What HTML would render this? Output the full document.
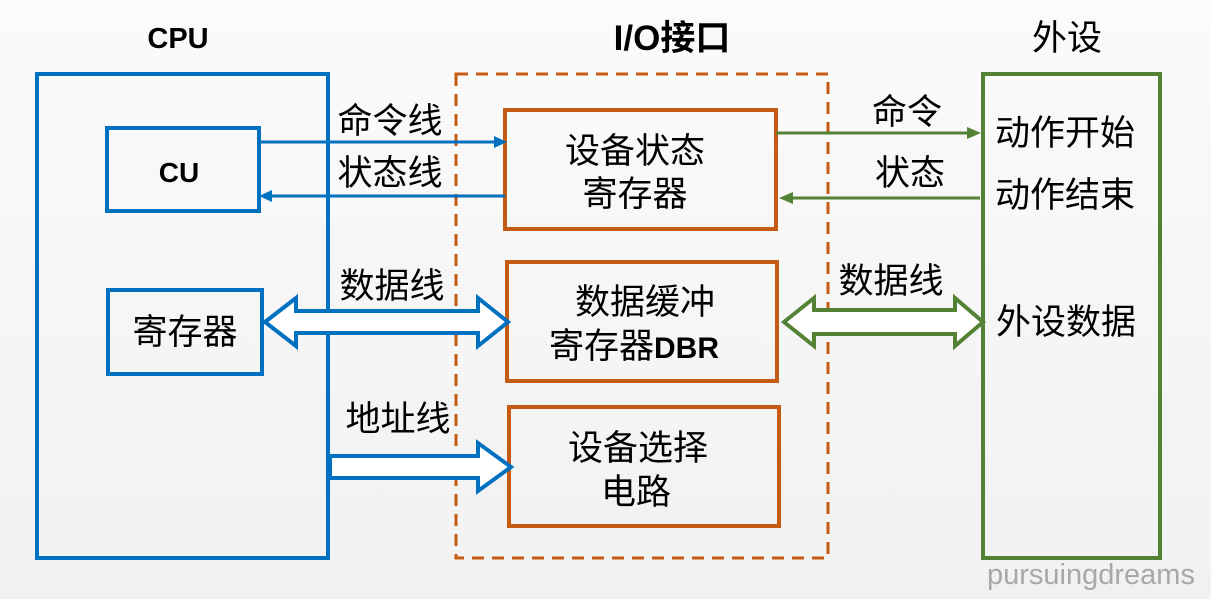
<!DOCTYPE html>
<html><head><meta charset="utf-8"><style>
html,body{margin:0;padding:0;background:#f5f5f5;}
svg{display:block}
text{font-family:"Liberation Sans","Noto Sans CJK SC",sans-serif;fill:#000}
</style></head><body>
<svg width="1211" height="599" viewBox="0 0 1211 599" xmlns="http://www.w3.org/2000/svg">
<defs><linearGradient id="bg" x1="0" y1="0" x2="0" y2="1"><stop offset="0" stop-color="#fbfbfb"/><stop offset="1" stop-color="#f1f1f1"/></linearGradient></defs>
<rect width="1211" height="599" fill="url(#bg)"/>
<text x="178" y="48" font-size="29" font-weight="bold" text-anchor="middle">CPU</text>
<text x="672" y="50" font-size="35" font-weight="bold" text-anchor="middle">I/O接口</text>
<text x="1067" y="50" font-size="35" text-anchor="middle">外设</text>
<g fill="none" stroke="#0070c0" stroke-width="4">
<rect x="37" y="74" width="291" height="484"/>
<rect x="107" y="128" width="152" height="83"/>
<rect x="108" y="290" width="154" height="84"/>
</g>
<rect x="456" y="74" width="372" height="484" fill="none" stroke="#c55a11" stroke-width="3" stroke-dasharray="12,8"/>
<g fill="none" stroke="#c55a11" stroke-width="4">
<rect x="505" y="110" width="271" height="119"/>
<rect x="507" y="262" width="270" height="119"/>
<rect x="509" y="407" width="270" height="119"/>
</g>
<rect x="983" y="74" width="177" height="484" fill="none" stroke="#548235" stroke-width="4"/>
<g stroke="#0070c0" stroke-width="3" fill="#0070c0">
<line x1="259" y1="142" x2="497" y2="142"/>
<polygon points="507,142 494,136 494,148" stroke="none"/>
<line x1="505" y1="196" x2="269" y2="196"/>
<polygon points="259,196 272,190 272,202" stroke="none"/>
</g>
<g fill="#fff" stroke="#0070c0" stroke-width="4" stroke-linejoin="miter">
<polygon points="265,322 296,298 296,311 478,311 478,298 508,322 478,346 478,333 296,333 296,346"/>
<polygon points="330,456 478,456 478,443 511,467 478,491 478,478 330,478"/>
</g>
<g stroke="#548235" stroke-width="3" fill="#548235">
<line x1="776" y1="133" x2="970" y2="133"/>
<polygon points="981,133 967,127 967,139" stroke="none"/>
<line x1="980" y1="198" x2="790" y2="198"/>
<polygon points="779,198 793,192 793,204" stroke="none"/>
</g>
<polygon points="784,322 814,298 814,310 955,310 955,298 983,322 955,346 955,334 814,334 814,346" fill="#fff" stroke="#548235" stroke-width="4"/>
<g font-size="35">
<text x="390" y="133" text-anchor="middle">命令线</text>
<text x="390" y="185" text-anchor="middle">状态线</text>
<text x="392" y="298" text-anchor="middle">数据线</text>
<text x="398" y="431" text-anchor="middle">地址线</text>
<text x="907" y="124" text-anchor="middle">命令</text>
<text x="910" y="185" text-anchor="middle">状态</text>
<text x="891" y="293" text-anchor="middle">数据线</text>
<text x="1065" y="145" text-anchor="middle">动作开始</text>
<text x="1065" y="207" text-anchor="middle">动作结束</text>
<text x="1066" y="334" text-anchor="middle">外设数据</text>
<text x="185" y="344" text-anchor="middle">寄存器</text>
<text x="635" y="163" text-anchor="middle">设备状态</text>
<text x="635" y="206" text-anchor="middle">寄存器</text>
<text x="645" y="314" text-anchor="middle">数据缓冲</text>
<text x="634" y="358" text-anchor="middle">寄存器<tspan font-weight="bold" font-size="30">DBR</tspan></text>
<text x="638" y="460" text-anchor="middle">设备选择</text>
<text x="636" y="504" text-anchor="middle">电路</text>
</g>
<text x="179" y="182" font-size="28" font-weight="bold" text-anchor="middle">CU</text>
<text x="1091" y="584" font-size="29" style="fill:#a8a8a8" text-anchor="middle">pursuingdreams</text>
</svg>
</body></html>
